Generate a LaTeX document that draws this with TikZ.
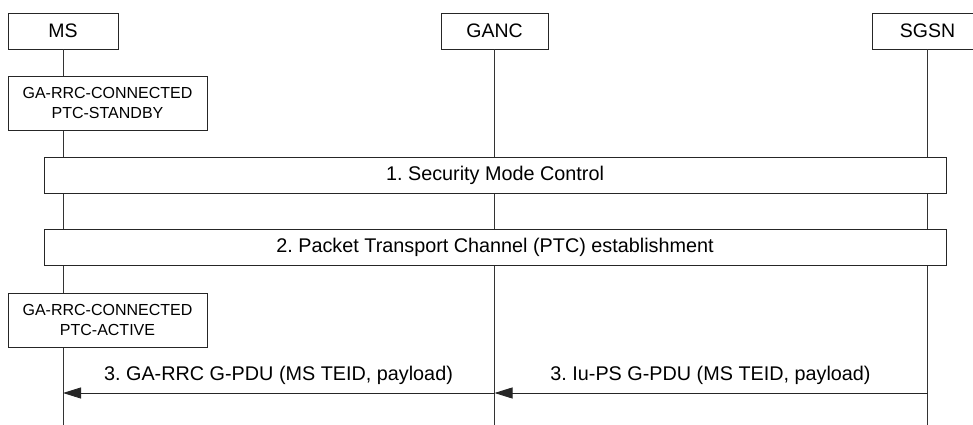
\documentclass[tikz,border=0pt]{standalone}
\usepackage{fontspec}
\setmainfont{Liberation Sans}
\usetikzlibrary{arrows.meta}
\frenchspacing
\begin{document}
\begin{tikzpicture}[x=1pt,y=-1pt,
  ent/.style={draw=black!85,line width=0.9pt,fill=white,minimum width=110pt,minimum height=36pt,inner sep=0pt,font=\fontsize{19.5}{22}\selectfont},
  state/.style={draw=black!85,line width=0.9pt,fill=white,minimum width=199pt,minimum height=54pt,inner sep=0pt,align=center,font=\fontsize{16}{19.5}\selectfont},
  proc/.style={draw=black!85,line width=0.9pt,fill=white,minimum width=902pt,minimum height=36pt,inner sep=0pt,font=\fontsize{19.8}{22}\selectfont},
  life/.style={draw=black!80,line width=0.9pt},
  msg/.style={draw=black!85,line width=0.9pt,-{Triangle[length=18pt,width=11pt]}},
  lbl/.style={font=\fontsize{19.8}{22}\selectfont,inner sep=0pt}]
\useasboundingbox (0,0) rectangle (973,425);
\clip (0,0) rectangle (973,425);
% lifeline anchors
\coordinate (msb) at (63,425);
\coordinate (gab) at (494.5,425);
\coordinate (sgb) at (927.5,425);
\node[ent] (ms) at (63,31) {MS};
\node[ent,minimum width=107pt] (ganc) at (494.5,31) {GANC};
\node[ent] (sgsn) at (927.5,31) {SGSN};
\draw[life] (ms.south) -- (msb);
\draw[life] (ganc.south) -- (gab);
\draw[life] (sgsn.south) -- (sgb);
\node[state] (st1) at (107.5,103) {GA-RRC-CONNECTED\\PTC-STANDBY};
\node[proc] (smc) at (495,175) {1. Security Mode Control};
\node[proc] (ptc) at (495,247.5) {2. Packet Transport Channel (PTC) establishment};
\node[state] (st2) at (107.5,320) {GA-RRC-CONNECTED\\PTC-ACTIVE};
\coordinate (a1s) at (927.5,393);
\coordinate (a1e) at (494.5,393);
\coordinate (a2e) at (63,393);
\draw[msg] (a1s) -- (a1e);
\draw[msg] (a1e) -- (a2e);
\node[lbl] (l1) at (278.5,375) {3. GA-RRC G-PDU (MS TEID, payload)};
\node[lbl] (l2) at (710.5,375) {3. Iu-PS G-PDU (MS TEID, payload)};
\end{tikzpicture}
\end{document}
